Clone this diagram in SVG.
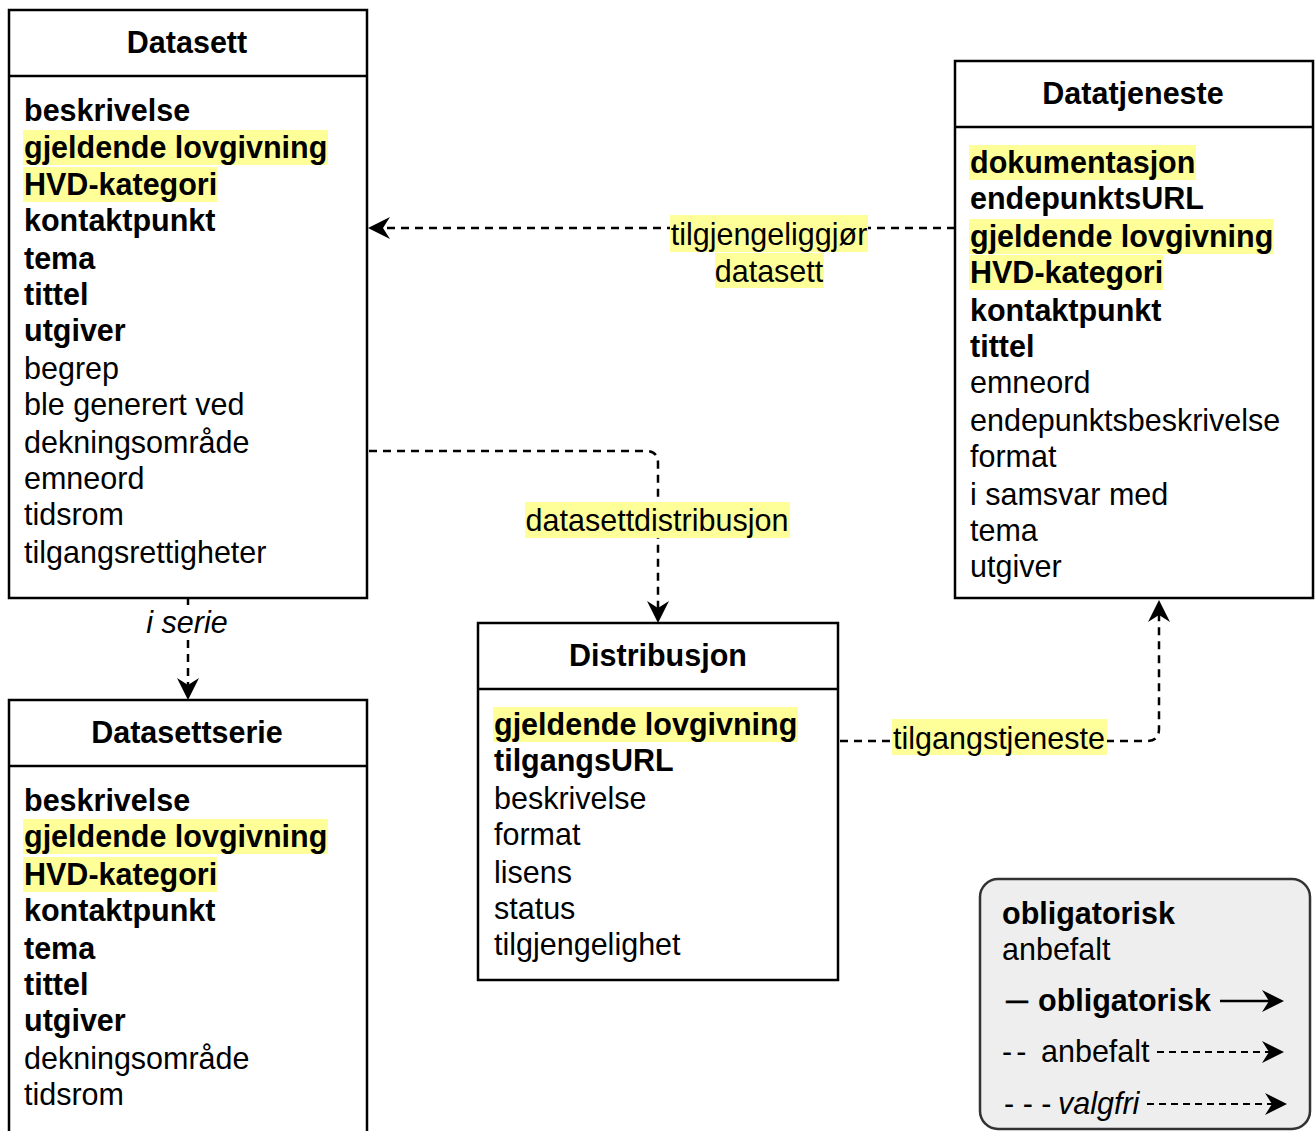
<svg xmlns="http://www.w3.org/2000/svg" width="1315" height="1131" viewBox="0 0 1315 1131">
<style>
text{font-family:"Liberation Sans",Arial,Helvetica,sans-serif;font-size:30.5px;fill:#000}
.b{font-weight:bold}
.t{font-weight:bold;text-anchor:middle}
.box{fill:#fff;stroke:#000;stroke-width:2.5}
.sep{stroke:#000;stroke-width:2.5}
.hl{fill:#ffff99}
.edge{fill:none;stroke:#000;stroke-width:2.5;stroke-dasharray:8 6}
.lbl{text-anchor:middle}
</style>
<defs>
<marker id="arr" markerUnits="userSpaceOnUse" markerWidth="24" markerHeight="24" viewBox="0 -12 24 24" refX="7" refY="0" orient="auto">
<path d="M22,0 L0,-11 L7,0 L0,11 Z" fill="#000"/>
</marker>
</defs>

<g id="connectors">
<path class="edge" d="M955,228 L383,228" marker-end="url(#arr)"/>
<path class="edge" d="M369,451 L646,451 Q658,451 658,463 L658,608" marker-end="url(#arr)"/>
<path class="edge" d="M188,598 L188,685" marker-end="url(#arr)"/>
<path class="edge" d="M840,741 L1147,741 Q1159,741 1159,729 L1159,615" marker-end="url(#arr)"/>
<g id="edge-labels">
<rect class="hl" x="670" y="215" width="198" height="37"/>
<rect class="hl" x="715" y="253" width="109" height="35"/>
<text class="lbl" x="769" y="245">tilgjengeliggjør</text>
<text class="lbl" x="769" y="282">datasett</text>
<rect class="hl" x="525" y="502" width="265" height="36"/>
<text class="lbl" x="657" y="531">datasettdistribusjon</text>
<rect fill="#fff" x="145" y="605" width="83" height="35"/>
<text class="lbl" x="187" y="633" font-style="italic">i serie</text>
<rect class="hl" x="892" y="719" width="215" height="36"/>
<text class="lbl" x="999" y="749">tilgangstjeneste</text>
</g>
</g>

<g id="datasett">
<rect class="box" x="9" y="10" width="358" height="588"/>
<line class="sep" x1="9" y1="76" x2="367" y2="76"/>
<text class="t" x="187" y="53">Datasett</text>
<rect class="hl" x="23" y="130" width="305" height="35"/>
<rect class="hl" x="23" y="167" width="194" height="35"/>
<text class="b" x="24" y="121">beskrivelse</text>
<text class="b" x="24" y="158">gjeldende lovgivning</text>
<text class="b" x="24" y="195">HVD-kategori</text>
<text class="b" x="24" y="231">kontaktpunkt</text>
<text class="b" x="24" y="269">tema</text>
<text class="b" x="24" y="305">tittel</text>
<text class="b" x="24" y="341">utgiver</text>
<text x="24" y="379">begrep</text>
<text x="24" y="415">ble generert ved</text>
<text x="24" y="453">dekningsområde</text>
<text x="24" y="489">emneord</text>
<text x="24" y="525">tidsrom</text>
<text x="24" y="563">tilgangsrettigheter</text>
</g>

<g id="datatjeneste">
<rect class="box" x="955" y="61" width="358" height="537"/>
<line class="sep" x1="955" y1="127" x2="1313" y2="127"/>
<text class="t" x="1133" y="104">Datatjeneste</text>
<rect class="hl" x="969" y="145" width="227" height="35"/>
<rect class="hl" x="969" y="219" width="305" height="35"/>
<rect class="hl" x="969" y="255" width="194" height="35"/>
<text class="b" x="970" y="173">dokumentasjon</text>
<text class="b" x="970" y="209">endepunktsURL</text>
<text class="b" x="970" y="247">gjeldende lovgivning</text>
<text class="b" x="970" y="283">HVD-kategori</text>
<text class="b" x="970" y="321">kontaktpunkt</text>
<text class="b" x="970" y="357">tittel</text>
<text x="970" y="393">emneord</text>
<text x="970" y="431">endepunktsbeskrivelse</text>
<text x="970" y="467">format</text>
<text x="970" y="505">i samsvar med</text>
<text x="970" y="541">tema</text>
<text x="970" y="577">utgiver</text>
</g>

<g id="distribusjon">
<rect class="box" x="478" y="623" width="360" height="357"/>
<line class="sep" x1="478" y1="689" x2="838" y2="689"/>
<text class="t" x="658" y="666">Distribusjon</text>
<rect class="hl" x="493" y="707" width="305" height="35"/>
<text class="b" x="494" y="735">gjeldende lovgivning</text>
<text class="b" x="494" y="771">tilgangsURL</text>
<text x="494" y="809">beskrivelse</text>
<text x="494" y="845">format</text>
<text x="494" y="883">lisens</text>
<text x="494" y="919">status</text>
<text x="494" y="955">tilgjengelighet</text>
</g>

<g id="datasettserie">
<rect class="box" x="9" y="700" width="358" height="445"/>
<line class="sep" x1="9" y1="766" x2="367" y2="766"/>
<text class="t" x="187" y="743">Datasettserie</text>
<rect class="hl" x="23" y="819" width="305" height="35"/>
<rect class="hl" x="23" y="857" width="194" height="35"/>
<text class="b" x="24" y="811">beskrivelse</text>
<text class="b" x="24" y="847">gjeldende lovgivning</text>
<text class="b" x="24" y="885">HVD-kategori</text>
<text class="b" x="24" y="921">kontaktpunkt</text>
<text class="b" x="24" y="959">tema</text>
<text class="b" x="24" y="995">tittel</text>
<text class="b" x="24" y="1031">utgiver</text>
<text x="24" y="1069">dekningsområde</text>
<text x="24" y="1105">tidsrom</text>
</g>

<g id="legend">
<rect x="980" y="879" width="330" height="250" rx="18" fill="#eeeeee" stroke="#333" stroke-width="2.5"/>
<text class="b" x="1002" y="924">obligatorisk</text>
<text x="1002" y="960">anbefalt</text>
<text x="1006" y="1010" textLength="22" lengthAdjust="spacingAndGlyphs" stroke="#000" stroke-width="0.6">—</text>
<text class="b" x="1038" y="1011">obligatorisk</text>
<line x1="1220" y1="1001" x2="1269" y2="1001" stroke="#000" stroke-width="2.5" marker-end="url(#arr)"/>
<text x="1002" y="1062" letter-spacing="4">--</text>
<text x="1041" y="1062">anbefalt</text>
<line x1="1157" y1="1052" x2="1269" y2="1052" stroke="#000" stroke-width="2" stroke-dasharray="7 5" marker-end="url(#arr)"/>
<text x="1004" y="1114">- - -</text>
<text x="1058" y="1114" font-style="italic">valgfri</text>
<line x1="1147" y1="1104" x2="1272" y2="1104" stroke="#000" stroke-width="2" stroke-dasharray="7 5" marker-end="url(#arr)"/>
</g>
</svg>
